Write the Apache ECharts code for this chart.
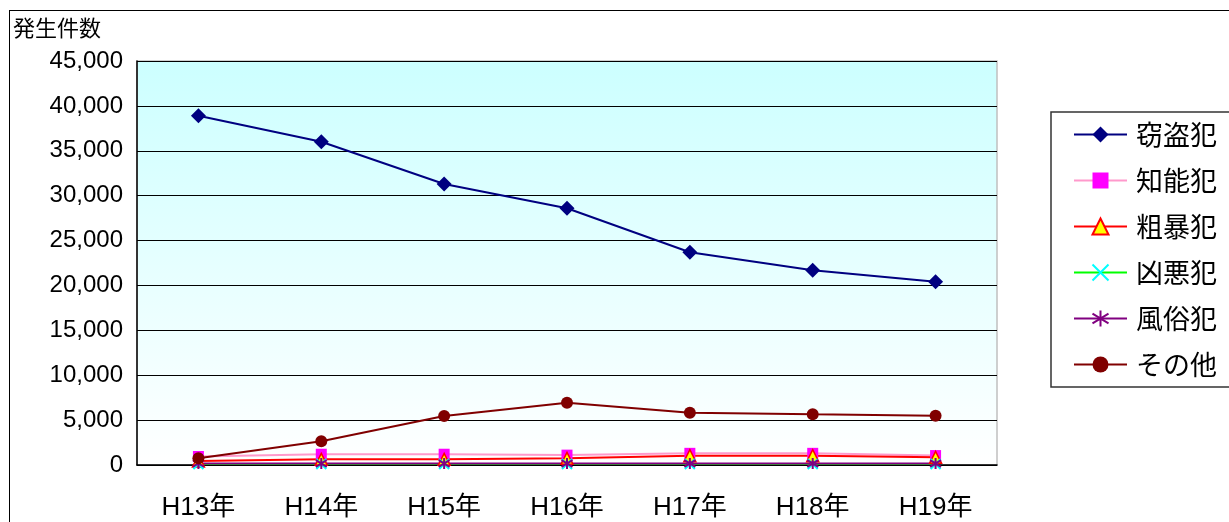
<!DOCTYPE html>
<html><head><meta charset="utf-8">
<script src="https://cdn.jsdelivr.net/npm/echarts@6/dist/echarts.min.js"></script>
<style>html,body{margin:0;padding:0;background:#fff}#c{width:1229px;height:522px;position:relative}
#frame{position:absolute;left:9px;top:10px;width:1300px;height:600px;border:1.5px solid #000;box-sizing:border-box;pointer-events:none}</style>
</head><body>
<div id="c"></div>
<div id="frame"></div>
<script>
const categories = ['H13年','H14年','H15年','H16年','H17年','H18年','H19年'];
const seriesNames = ['窃盗犯','知能犯','粗暴犯','凶悪犯','風俗犯','その他'];
const theft    = [38900, 36000, 31300, 28600, 23700, 21700, 20400];
const fraud    = [950, 1200, 1200, 1100, 1300, 1300, 1050];
const violent  = [450, 630, 630, 740, 1040, 1040, 850];
const heinous  = [110, 110, 110, 110, 110, 110, 110];
const morals   = [180, 170, 170, 170, 170, 170, 170];
const others   = [750, 2650, 5460, 6940, 5830, 5650, 5490];
const yTicks   = [0, 5000, 10000, 15000, 20000, 25000, 30000, 35000, 40000, 45000];

const font = '"Liberation Sans","Noto Sans CJK JP",sans-serif';
const jfont = '"Noto Sans CJK JP","Liberation Sans",sans-serif';
const chart = echarts.init(document.getElementById('c'));
const xPath = 'path://M0,0L10,10M10,0L0,10';
const starPath = 'path://M5,0L5,10M0,2L10,8M0,8L10,2';
function mk(name, data, lineColor, symbol, size, fill, border, bw){
  return {name, type:'line', data, symbol, symbolSize:size, showSymbol:true,
    lineStyle:{color:lineColor, width:2}, itemStyle:{color:fill, borderColor:border, borderWidth:bw},
    emphasis:{disabled:true}, animation:false};
}
chart.setOption({
  animation:false,
  graphic:[{type:'text', left:13, top:17, style:{text:'発生件数', font:'22px '+jfont, fill:'#000'}}],
  grid:{left:137, right:232, top:61, bottom:57, show:true, borderColor:'#c0c0c0', borderWidth:1.5,
    backgroundColor:new echarts.graphic.LinearGradient(0,0,0,1,[{offset:0,color:'#ccffff'},{offset:1,color:'#ffffff'}])},
  legend:{orient:'vertical', left:1051, top:112, padding:[8,40,8,22],
    borderColor:'#333', borderWidth:1.5, itemWidth:53, itemHeight:20, itemGap:17,
    textStyle:{fontSize:27, fontFamily:jfont, color:'#000', padding:[0,0,0,4], lineHeight:29},
    data:seriesNames},
  xAxis:{type:'category', data:categories, boundaryGap:true,
    axisLine:{lineStyle:{color:'#000', width:1.5}},
    axisTick:{inside:true, length:8, lineStyle:{color:'#000'}},
    axisLabel:{fontSize:26, fontFamily:font, color:'#000', margin:30}},
  yAxis:{type:'value', min:yTicks[0], max:yTicks[yTicks.length-1], interval:5000,
    axisLine:{show:true, lineStyle:{color:'#000', width:1.5}},
    axisTick:{show:true, inside:true, length:8, lineStyle:{color:'#000'}},
    splitLine:{lineStyle:{color:'#000', width:1}},
    axisLabel:{fontSize:24, fontFamily:font, color:'#000', margin:14, padding:[6,0,0,0],
      formatter:v=>v.toLocaleString('en-US')}},
  series:[
    mk(seriesNames[0], theft, '#000080', 'diamond', 15, '#000080', '#000080', 0),
    mk(seriesNames[1], fraud, '#ff99cc', 'rect', 11, '#ff00ff', '#ff00ff', 0),
    mk(seriesNames[2], violent, '#ff0000', 'triangle', 12, '#ffff00', '#ff0000', 1.5),
    mk(seriesNames[3], heinous, '#00ff00', xPath, 10, '#00ffff', '#00ffff', 2),
    mk(seriesNames[4], morals, '#800080', starPath, 11, '#800080', '#800080', 2),
    mk(seriesNames[5], others, '#800000', 'circle', 12, '#800000', '#800000', 0)
  ]
});
</script></body></html>
